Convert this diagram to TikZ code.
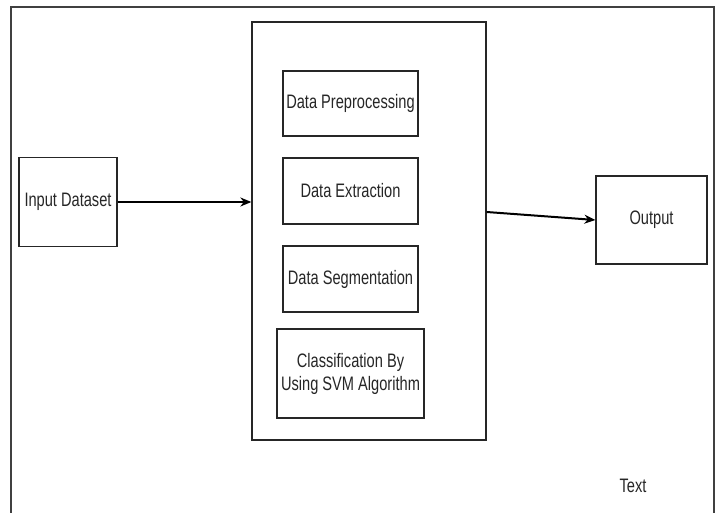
\documentclass[tikz,border=0pt]{standalone}
\usepackage{fontspec}
\setmainfont{Liberation Sans}[FakeStretch=0.75]
\usetikzlibrary{arrows.meta}
\begin{document}
\begin{tikzpicture}[x=1pt,y=-1pt,
  box/.style={draw=black!85,line width=1.3pt,rectangle,inner sep=0pt,align=center,
    text=black!85,font=\fontsize{19.5}{23}\selectfont},
  frame/.style={draw=black!75,line width=1.4pt},
  conn/.style={draw=black,line width=2pt,-{Stealth[length=11pt,width=9pt]}}]
\useasboundingbox (0,0) rectangle (720,513);
\fill[white] (0,0) rectangle (720,513);
% outer frame
\coordinate (fbl) at (11,513);
\coordinate (ftl) at (11,7);
\coordinate (ftr) at (714,7);
\coordinate (fbr) at (714,513);
\draw[frame] (fbl) -- (ftl) -- (ftr) -- (fbr);
% nodes
\node[box,minimum width=98pt,minimum height=89pt] (in) at (68,202) {Input Dataset};
\node[box,minimum width=234pt,minimum height=418pt] (big) at (369,231) {};
\node[box,minimum width=135pt,minimum height=65pt] (pre) at (350.5,103.5) {Data Preprocessing};
\node[box,minimum width=135pt,minimum height=66pt] (ext) at (350.5,191) {Data Extraction};
\node[box,minimum width=135pt,minimum height=66pt] (seg) at (350.5,279) {Data Segmentation};
\node[box,minimum width=147pt,minimum height=89pt] (cls) at (350.5,373.5) {Classification By\\Using SVM Algorithm};
\node[box,minimum width=111pt,minimum height=88pt] (out) at (651.5,220) {Output};
\node[box,draw=none] (txt) at (633,486) {Text};
% connectors
\draw[conn] (in.east) -- (in.east -| big.west);
\draw[conn] ([yshift=19pt]big.east) -- (out.west);
\end{tikzpicture}
\end{document}
